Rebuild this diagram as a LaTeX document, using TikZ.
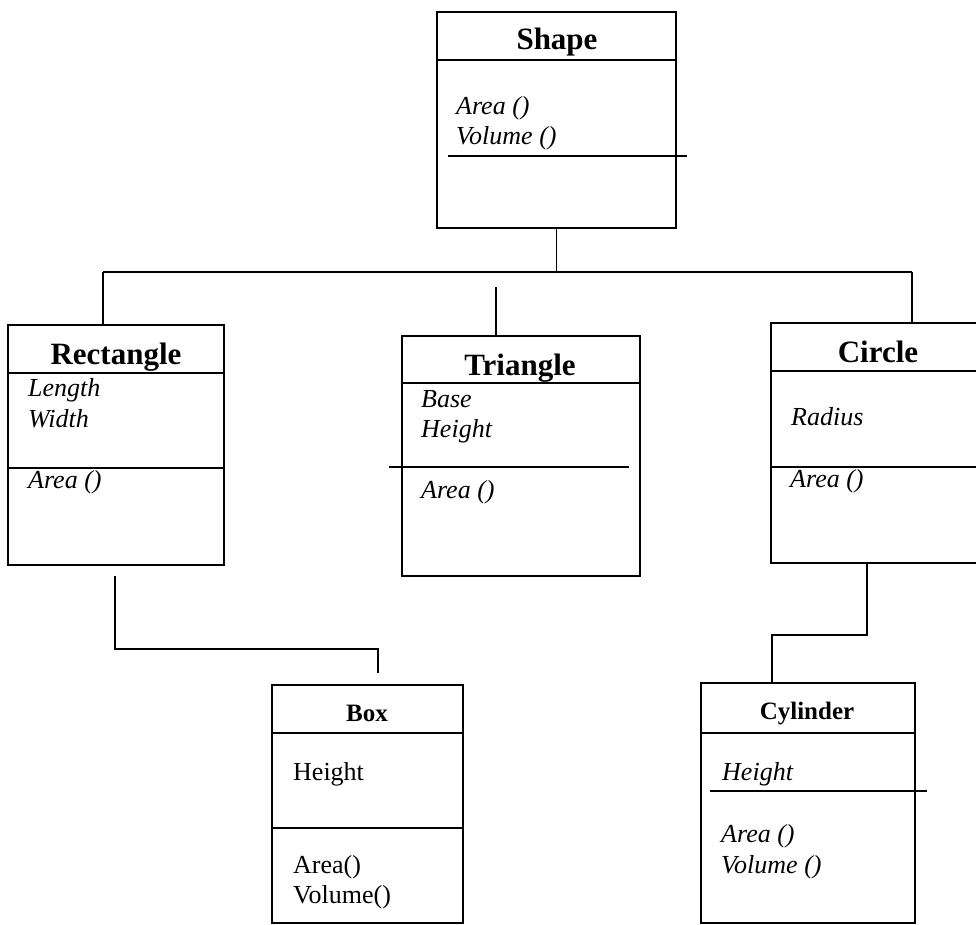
\documentclass[tikz,border=0pt]{standalone}
\usepackage{fontspec}
\setmainfont{Liberation Serif}
\tikzset{
  cls/.style={draw, line width=1.6pt, inner sep=0pt, outer sep=0pt, anchor=north west},
  sep/.style={line width=1.6pt},
  conn/.style={line width=1.6pt},
  bigtitle/.style={inner sep=0pt, anchor=base, font=\fontsize{31}{31}\selectfont\bfseries},
  smalltitle/.style={inner sep=0pt, anchor=base, font=\fontsize{25}{25}\selectfont\bfseries},
  itm/.style={inner sep=0pt, anchor=base west, font=\fontsize{26}{26}\selectfont\itshape},
  rtm/.style={inner sep=0pt, anchor=base west, font=\fontsize{26}{26}\selectfont},
}
\begin{document}
\begin{tikzpicture}[x=1pt,y=-1pt]
\useasboundingbox (0,0) rectangle (976,925);

% Shape
\node[cls, minimum width=239pt, minimum height=216pt] (shape) at (437,12) {};
\draw[sep] (437,60) -- (676,60);
\draw[sep] (448,156) -- (687,156);
\node[bigtitle] (shapet) at (557,50) {Shape};
\node[itm] (shapea) at (456,115) {Area ()};
\node[itm] (shapev) at (456,145) {Volume ()};

% Rectangle
\node[cls, minimum width=216pt, minimum height=240pt] (rect) at (8,325) {};
\draw[sep] (8,373) -- (224,373);
\draw[sep] (8,468) -- (224,468);
\node[bigtitle] (rectt) at (116,364) {Rectangle};
\node[itm] (rectl) at (28,396) {Length};
\node[itm] (rectw) at (28,427) {Width};
\node[itm] (recta) at (28,488) {Area ()};

% Triangle
\node[cls, minimum width=238pt, minimum height=240pt] (tri) at (402,336) {};
\draw[sep] (402,383) -- (640,383);
\draw[sep] (389,467) -- (629,467);
\node[bigtitle] (trit) at (520,375) {Triangle};
\node[itm] (trib) at (421,407) {Base};
\node[itm] (trih) at (421,437) {Height};
\node[itm] (tria) at (421,498) {Area ()};

% Circle
\node[cls, minimum width=216pt, minimum height=240pt] (circ) at (771,323) {};
\draw[sep] (771,371) -- (987,371);
\draw[sep] (771,467) -- (987,467);
\node[bigtitle] (circt) at (878,362) {Circle};
\node[itm] (circr) at (791,425) {Radius};
\node[itm] (circa) at (790,487) {Area ()};

% Box
\node[cls, minimum width=191pt, minimum height=238pt] (box) at (272,685) {};
\draw[sep] (272,733) -- (463,733);
\draw[sep] (272,828) -- (463,828);
\node[smalltitle] (boxt) at (367,721) {Box};
\node[rtm] (boxh) at (293,780) {Height};
\node[rtm] (boxa) at (293,873) {Area()};
\node[rtm] (boxv) at (293,903) {Volume()};

% Cylinder
\node[cls, minimum width=214pt, minimum height=240pt] (cyl) at (701,683) {};
\draw[sep] (701,733) -- (915,733);
\draw[sep] (710,791) -- (927,791);
\node[smalltitle] (cylt) at (807,719) {Cylinder};
\node[itm] (cylh) at (722,780) {Height};
\node[itm] (cyla) at (721,842) {Area ()};
\node[itm] (cylv) at (721,873) {Volume ()};

% connectors
\coordinate (busl) at (103,272);
\coordinate (busr) at (912,272);
\coordinate (trtop) at (496,287);
\coordinate (rbot) at (115,576);
\coordinate (btop) at (378,673);
\draw[conn] (shape.south) -- (shape.south |- busl);
\draw[conn] (busl) -- (busr);
\draw[conn] (busl) -- (busl |- rect.north);
\draw[conn] (busr) -- (busr |- circ.north);
\draw[conn] (trtop) -- (trtop |- tri.north);
\draw[conn] (rbot) -- (115,649) -- (378,649) -- (btop);
\draw[conn] (867,563) -- (867,635) -- (772,635) -- (772,683);
\end{tikzpicture}
\end{document}
